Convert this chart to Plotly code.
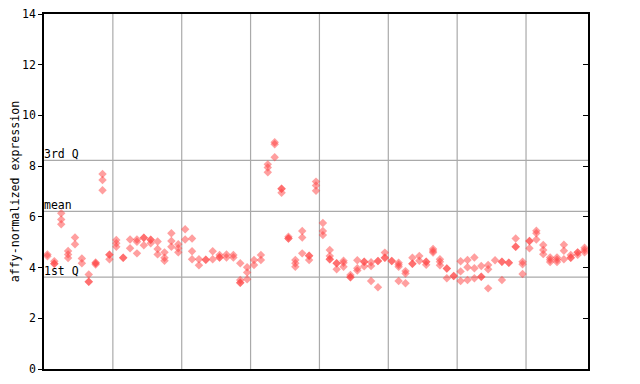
import plotly.graph_objects as go

# replicate values per sample, grouped in blocks of 10 samples
group1 = [[4.52, 4.45], [4.25, 4.15, 4.15], [6.14, 5.90, 5.71], [4.65, 4.52, 4.38], [5.19, 4.92],
          [4.36, 4.17], [3.73, 3.44, 3.44], [4.17, 4.12, 4.20], [7.69, 7.45, 7.05], [4.51, 4.51, 4.33]]
group2 = [[5.09, 4.96, 4.82], [4.39, 4.39], [5.11, 4.76], [5.11, 5.02, 4.56], [5.18, 5.18, 4.88],
          [5.10, 5.10, 4.96], [5.03, 4.73, 4.52], [4.60, 4.39, 4.27], [5.35, 5.05, 4.82], [4.92, 4.76, 4.60]]
group3 = [[5.51, 5.11], [5.15, 4.64, 4.33], [4.33, 4.09], [4.31, 4.31], [4.64, 4.33],
          [4.50, 4.40, 4.40], [4.52, 4.40], [4.50, 4.40], [4.17, 3.51, 3.40, 3.40], [4.01, 3.81, 3.54]]
group4 = [[4.30, 4.10], [4.50, 4.30], [8.07, 7.95, 7.76], [8.94, 8.86, 8.35], [7.11, 7.11, 6.95],
          [5.22, 5.15, 5.15], [4.30, 4.17, 4.03], [5.44, 5.19, 4.56], [4.47, 4.47, 4.30], [7.39, 7.24, 7.03]]
group5 = [[5.76, 5.44, 5.28], [4.69, 4.46, 4.33, 4.33], [4.17, 4.17, 3.93], [4.27, 4.19, 4.03], [3.71, 3.62, 3.62],
          [4.29, 3.97, 3.88], [4.23, 4.23, 4.05], [4.21, 4.06, 3.47], [4.26, 4.26, 3.22], [4.59, 4.39, 4.39]]
group6 = [[4.26, 4.26], [4.19, 4.11, 4.03, 3.47], [3.86, 3.77, 3.38], [4.39, 4.15, 4.15], [4.46, 4.27],
          [4.23, 4.23, 4.11], [4.73, 4.65, 4.59], [4.33, 4.23, 4.09], [3.96, 3.96, 3.58], [3.67, 3.67]]
group7 = [[4.25, 3.85, 3.47], [4.30, 4.01, 3.51], [4.40, 3.97, 3.58], [4.06, 3.64, 3.64], [4.10, 3.93, 3.18],
          [4.29], [4.23, 4.23, 3.51], [4.19, 4.19], [5.15, 4.82, 4.82], [4.23, 4.13, 3.75]]
group8 = [[5.05, 5.05, 4.76], [5.45, 5.35, 5.11], [4.89, 4.69, 4.53], [4.40, 4.31, 4.22], [4.40, 4.31, 4.22],
          [4.90, 4.66, 4.33], [4.50, 4.39, 4.39], [4.60, 4.60, 4.50], [4.78, 4.69, 4.60]]

quartile_labels = ["3rd Q", "mean", "1st Q"]
quartile_values = [8.23, 6.22, 3.62]
y_ticks = [0, 2, 4, 6, 8, 10, 12, 14]

samples = group1 + group2 + group3 + group4 + group5 + group6 + group7 + group8
n = len(samples)
xs, ys = [], []
for i, vals in enumerate(samples, start=1):
    for v in vals:
        xs.append(i)
        ys.append(v)

font = "DejaVu Sans Mono, monospace"
fig = go.Figure()
fig.add_trace(go.Scatter(
    x=xs, y=ys, mode="markers",
    marker=dict(symbol="diamond", size=6.5, color="rgba(255,64,64,0.5)", line=dict(width=0)),
    showlegend=False, hoverinfo="y"))
# invisible trace for the right-hand axis
fig.add_trace(go.Scatter(x=[1], y=[0], yaxis="y2", mode="markers",
                         marker=dict(opacity=0), showlegend=False, hoverinfo="skip"))

shapes = []
for k in range(10, n, 10):
    shapes.append(dict(type="line", xref="x", yref="paper", x0=k + 0.5, x1=k + 0.5, y0=0, y1=1,
                       line=dict(color="#aaaaaa", width=1.2), layer="below"))
for v in quartile_values:
    shapes.append(dict(type="line", xref="paper", yref="y", x0=0, x1=1, y0=v, y1=v,
                       line=dict(color="#aaaaaa", width=1.2), layer="below"))
annotations = [dict(x=0, xref="paper", y=v, yref="y", text=t, showarrow=False,
                    xanchor="left", yanchor="bottom", yshift=-3, xshift=-2,
                    font=dict(family=font, size=11.5, color="black"))
               for t, v in zip(quartile_labels, quartile_values)]

# the page body has an 8px default margin, so the figure is 8px smaller
fig.update_layout(
    width=632, height=376,
    margin=dict(l=36, r=52, t=6, b=15),
    paper_bgcolor="white", plot_bgcolor="white",
    font=dict(family=font, size=11.5, color="black"),
    shapes=shapes, annotations=annotations,
    xaxis=dict(range=[0.5, n + 0.5], showticklabels=False, ticks="", showgrid=False, automargin=False,
               zeroline=False, showline=True, linecolor="black", linewidth=1.5, mirror=True),
    yaxis=dict(range=[0, 14], tickvals=y_ticks, ticks="outside", ticklen=4, tickcolor="black",
               showgrid=False, zeroline=False, showline=True, linecolor="black", linewidth=1.5,
               automargin=False, ticklabeloverflow="allow",
               title=dict(text="affy-normalized expression", font=dict(family=font, size=11.6))),
    yaxis2=dict(range=[0, 14], overlaying="y", side="right", tickvals=y_ticks, ticks="inside",
                ticklen=5, tickcolor="black", showticklabels=False, showgrid=False, zeroline=False,
                showline=True, linecolor="black", linewidth=1.5, automargin=False),
)
fig.write_html("out.html")
